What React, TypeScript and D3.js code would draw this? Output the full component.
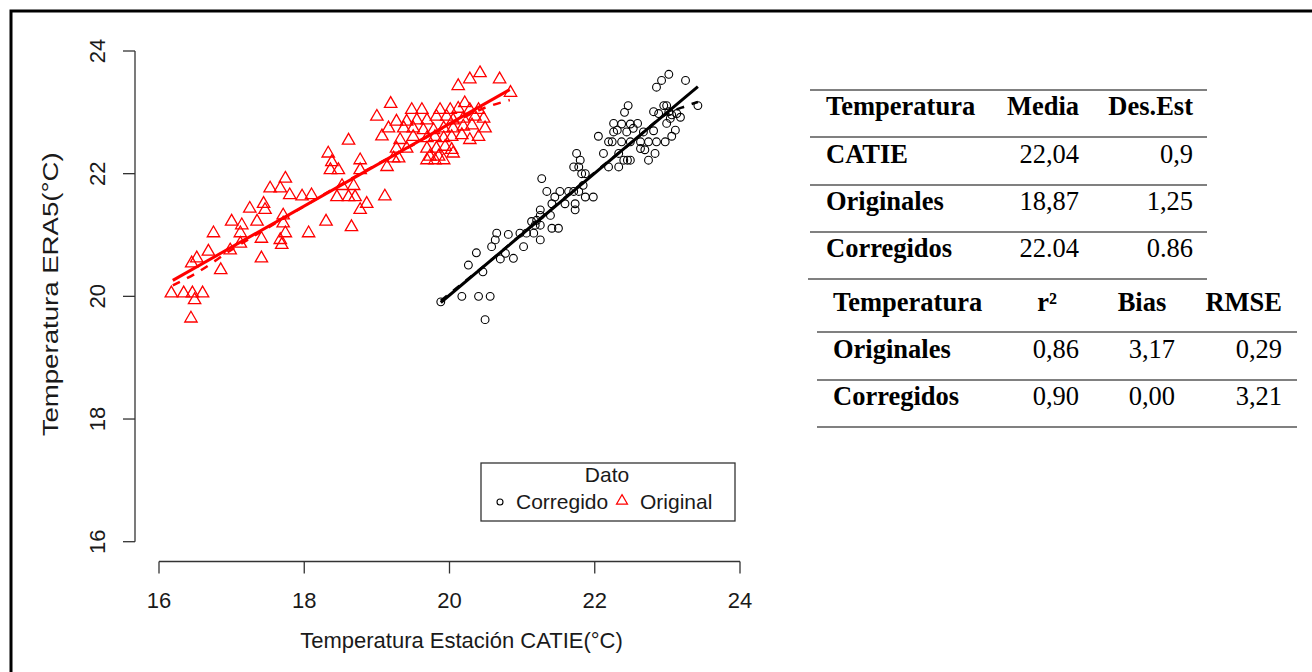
import React from "react";
import * as d3 from "d3";

// ---------- data ----------
const xTicks = [16, 18, 20, 22, 24];
const yTicks = [16, 18, 20, 22, 24];

// Original (red triangles): [CATIE, ERA5]
const originalPoints: [number, number][] = [
  [20.42, 23.64], [20.28, 23.54], [20.12, 23.43], [20.69, 23.54], [20.84, 23.32], [19.19, 23.14], [19.0, 22.93], [18.61, 22.54],
  [19.48, 23.04], [19.62, 23.04], [19.87, 23.04], [20.01, 23.04], [20.12, 23.06], [20.21, 23.15], [20.28, 23.04], [20.4, 23.04],
  [19.27, 22.85], [19.41, 22.85], [19.55, 22.87], [19.69, 22.87], [19.82, 22.93], [19.96, 22.93], [20.05, 22.87], [20.19, 22.9], [20.35, 22.93], [20.47, 22.9],
  [19.16, 22.74], [19.37, 22.74], [19.5, 22.74], [19.64, 22.71], [19.78, 22.71], [19.92, 22.74], [20.05, 22.74], [20.19, 22.77], [20.31, 22.79], [20.49, 22.74],
  [19.07, 22.61], [19.32, 22.55], [19.5, 22.6], [19.69, 22.58], [19.8, 22.6], [19.92, 22.58], [20.03, 22.6], [20.17, 22.63], [20.28, 22.55], [20.4, 22.6],
  [19.27, 22.41], [19.41, 22.41], [19.69, 22.41], [19.82, 22.41], [19.94, 22.44], [20.03, 22.39],
  [19.23, 22.25], [19.3, 22.25], [19.73, 22.28], [19.85, 22.28], [19.92, 22.22], [20.05, 22.33],
  [19.14, 22.11], [19.69, 22.22], [19.8, 22.22],
  [18.33, 22.33], [18.38, 22.19], [18.36, 22.06], [18.47, 22.06], [18.77, 22.22],
  [17.74, 21.92], [17.53, 21.76], [17.67, 21.76], [18.52, 21.8], [18.68, 21.8], [18.77, 22.06],
  [18.45, 21.62], [18.61, 21.62], [18.7, 21.62], [17.8, 21.65], [17.97, 21.63], [18.1, 21.65], [19.11, 21.63],
  [17.25, 21.43], [17.44, 21.51], [17.46, 21.41], [18.77, 21.41], [18.86, 21.51],
  [17.0, 21.22], [17.14, 21.16], [17.35, 21.22], [17.71, 21.32], [17.71, 21.19], [18.3, 21.22], [18.65, 21.13],
  [16.75, 21.03], [17.12, 21.03], [17.41, 20.94], [17.67, 20.92], [17.74, 21.03], [18.06, 21.03],
  [16.68, 20.73], [16.52, 20.62], [17.12, 20.86], [16.98, 20.75], [17.69, 20.84], [16.45, 20.54], [17.41, 20.62], [16.85, 20.43],
  [16.17, 20.05], [16.34, 20.05], [16.46, 20.05], [16.6, 20.05], [16.49, 19.94], [16.44, 19.64],
];

// Corregido (black circles)
const corregidoPoints: [number, number][] = [
  [23.02, 23.62], [22.92, 23.52], [22.85, 23.41], [23.25, 23.52], [23.42, 23.11],
  [22.46, 23.11], [22.41, 23.0], [22.95, 23.11], [22.99, 23.11], [22.81, 23.01], [22.88, 22.98], [23.02, 23.01], [23.06, 22.96], [23.13, 22.98], [23.18, 22.92], [23.04, 22.9],
  [22.26, 22.82], [22.37, 22.81], [22.49, 22.81], [22.59, 22.82], [22.53, 22.74], [22.31, 22.71], [22.26, 22.68], [22.44, 22.68], [22.67, 22.68], [22.81, 22.7], [22.99, 22.82], [23.11, 22.71],
  [22.05, 22.61], [22.19, 22.52], [22.24, 22.52], [22.37, 22.52], [22.49, 22.52], [22.63, 22.52], [22.74, 22.52], [22.85, 22.52], [22.97, 22.52], [23.06, 22.61], [22.63, 22.41], [22.69, 22.39], [22.83, 22.33], [22.74, 22.22],
  [22.12, 22.33], [22.33, 22.33], [22.4, 22.22], [22.49, 22.22], [22.19, 22.11], [22.33, 22.11], [22.45, 22.22],
  [21.75, 22.33], [21.8, 22.22], [21.71, 22.11], [21.78, 22.11], [21.82, 22.0], [21.87, 22.0],
  [21.27, 21.92], [21.34, 21.71], [21.45, 21.62], [21.52, 21.71], [21.64, 21.71], [21.71, 21.71], [21.78, 21.71], [21.87, 21.62], [21.98, 21.62], [21.84, 21.81],
  [21.41, 21.51], [21.59, 21.51], [21.73, 21.41], [21.73, 21.51],
  [21.25, 21.41], [21.25, 21.32], [21.39, 21.32], [21.2, 21.24], [21.13, 21.22], [21.18, 21.16], [21.25, 21.16], [21.41, 21.11], [21.5, 21.11],
  [20.65, 21.03], [20.81, 21.01], [20.97, 21.03], [21.06, 21.03], [21.16, 21.03], [21.25, 20.92], [20.63, 20.92], [20.58, 20.81], [21.02, 20.81],
  [20.37, 20.71], [20.26, 20.51], [20.7, 20.61], [20.77, 20.7], [20.88, 20.62], [20.46, 20.4],
  [19.88, 19.91], [20.17, 20.0], [20.4, 20.0], [20.56, 20.0], [20.49, 19.62],
];

const originalFit: [number, number][] = [[16.19, 20.26], [20.83, 23.37]];
const corregidoFit: [number, number][] = [[19.88, 19.9], [23.42, 23.42]];
const originalSmooth: [number, number][] = [
  [16.19, 20.18], [16.5, 20.37], [17.0, 20.76], [17.5, 21.12], [18.0, 21.47], [18.5, 21.82],
  [19.0, 22.15], [19.5, 22.47], [20.0, 22.8], [20.5, 23.08], [20.83, 23.2],
];
const corregidoSmooth: [number, number][] = [
  [19.88, 19.93], [20.5, 20.52], [21.0, 21.02], [21.5, 21.52], [22.0, 22.02], [22.5, 22.5],
  [23.0, 22.98], [23.25, 23.1], [23.42, 23.17],
];

const table1Header = ["Temperatura", "Media", "Des.Est"];
const table1Rows = [
  ["CATIE", "22,04", "0,9"],
  ["Originales", "18,87", "1,25"],
  ["Corregidos", "22.04", "0.86"],
];
const table2Header = ["Temperatura", "r²", "Bias", "RMSE"];
const table2Rows = [
  ["Originales", "0,86", "3,17", "0,29"],
  ["Corregidos", "0,90", "0,00", "3,21"],
];

// ---------- layout ----------
const W = 1312, H = 672;
const x = d3.scaleLinear().domain([16, 24]).range([159, 740]);
const y = d3.scaleLinear().domain([16, 24]).range([541.7, 51]);
const sans = "'Liberation Sans', Arial, sans-serif";
const serif = "'Liberation Serif', 'Times New Roman', serif";
const axisColor = "#333";

const lineGen = d3.line<[number, number]>().x((d) => x(d[0])).y((d) => y(d[1]));
const smoothGen = d3.line<[number, number]>().x((d) => x(d[0])).y((d) => y(d[1])).curve(d3.curveMonotoneX);

function triPath(cx: number, cy: number, R: number) {
  const a = 1.5551 * R, b = 1.3468 * R, c = 0.7776 * R;
  return `M${cx},${cy - a}L${cx + b},${cy + c}L${cx - b},${cy + c}Z`;
}

export default function App() {
  const t1Lines = [90, 137, 185, 232];
  const t1Base = [115, 163, 209.5, 257];
  const t2Lines = [332, 380, 427];
  const t2Base = [311, 358, 405];
  return (
    <svg width={W} height={H} style={{ position: "fixed", left: 0, top: 0, background: "#fff" }}>
      <rect x={0} y={0} width={W} height={H} fill="#fff" />
      <rect x={11} y={11} width={1400} height={800} fill="none" stroke="#000" strokeWidth={3} />

      {/* axes */}
      <g stroke={axisColor} strokeWidth={1.3} fill="none">
        <line x1={135} x2={135} y1={y(16)} y2={y(24)} />
        {yTicks.map((t) => (
          <line key={"yt" + t} x1={123} x2={135} y1={y(t)} y2={y(t)} />
        ))}
        <line x1={x(16)} x2={x(24)} y1={561.5} y2={561.5} />
        {xTicks.map((t) => (
          <line key={"xt" + t} x1={x(t)} x2={x(t)} y1={561.5} y2={573.5} />
        ))}
      </g>
      <g fontFamily={sans} fontSize={22} fill="#1a1a1a">
        {yTicks.map((t) => (
          <text key={"yl" + t} transform={`translate(105,${y(t)}) rotate(-90)`} textAnchor="middle">
            {t}
          </text>
        ))}
        {xTicks.map((t) => (
          <text key={"xl" + t} x={x(t)} y={608} textAnchor="middle">
            {t}
          </text>
        ))}
        <text x={461.5} y={648} textAnchor="middle">Temperatura Estación CATIE(°C)</text>
        <text
          transform={`translate(58,${(y(16) + y(24)) / 2 - 2}) rotate(-90)`}
          textAnchor="middle"
          textLength={284}
          lengthAdjust="spacingAndGlyphs"
        >
          Temperatura ERA5(°C)
        </text>
      </g>

      {/* points */}
      <g fill="none" stroke="#ff0000" strokeWidth={1.3}>
        {originalPoints.map((d, i) => (
          <path key={"o" + i} d={triPath(x(d[0]), y(d[1]), 4.6)} />
        ))}
      </g>
      <g fill="none" stroke="#000" strokeWidth={1.1}>
        {corregidoPoints.map((d, i) => (
          <circle key={"c" + i} cx={x(d[0])} cy={y(d[1])} r={3.9} />
        ))}
      </g>

      {/* fits */}
      <path d={lineGen(originalFit) || ""} stroke="#ff0000" strokeWidth={3} fill="none" />
      <path d={smoothGen(originalSmooth) || ""} stroke="#ff0000" strokeWidth={2.5} strokeDasharray="8,8" fill="none" />
      <path d={lineGen(corregidoFit) || ""} stroke="#000" strokeWidth={3} fill="none" />
      <path d={smoothGen(corregidoSmooth) || ""} stroke="#000" strokeWidth={2.5} strokeDasharray="8,8" fill="none" />

      {/* legend */}
      <rect x={481} y={463} width={254} height={58} fill="#fff" stroke={axisColor} strokeWidth={1.3} />
      <g fontFamily={sans} fontSize={21} fill="#1a1a1a">
        <text x={607} y={482} textAnchor="middle">Dato</text>
        <circle cx={500} cy={502} r={3} fill="none" stroke="#000" strokeWidth={1.1} />
        <text x={516} y={509}>Corregido</text>
        <path d={triPath(622, 501, 4.1)} fill="none" stroke="#ff0000" strokeWidth={1.2} />
        <text x={640} y={509}>Original</text>
      </g>

      {/* tables */}
      <g stroke="#808080" strokeWidth={2}>
        {t1Lines.map((ly, i) => (
          <line key={"t1l" + i} x1={810} x2={1207} y1={ly} y2={ly} />
        ))}
        <line x1={808} x2={1207} y1={279} y2={279} />
        {t2Lines.map((ly, i) => (
          <line key={"t2l" + i} x1={817} x2={1297} y1={ly} y2={ly} />
        ))}
      </g>
      <g fontFamily={serif} fontSize={26.5} fill="#000">
        <g fontWeight="bold">
          <text x={826} y={t1Base[0]}>{table1Header[0]}</text>
          <text x={1079} y={t1Base[0]} textAnchor="end">{table1Header[1]}</text>
          <text x={1193} y={t1Base[0]} textAnchor="end">{table1Header[2]}</text>
        </g>
        {table1Rows.map((r, i) => (
          <g key={"t1r" + i}>
            <text x={826} y={t1Base[i + 1]} fontWeight="bold">{r[0]}</text>
            <text x={1079} y={t1Base[i + 1]} textAnchor="end">{r[1]}</text>
            <text x={1193} y={t1Base[i + 1]} textAnchor="end">{r[2]}</text>
          </g>
        ))}
        <g fontWeight="bold">
          <text x={833} y={t2Base[0]}>{table2Header[0]}</text>
          <text x={1047} y={t2Base[0]} textAnchor="middle">{table2Header[1]}</text>
          <text x={1142} y={t2Base[0]} textAnchor="middle">{table2Header[2]}</text>
          <text x={1282} y={t2Base[0]} textAnchor="end">{table2Header[3]}</text>
        </g>
        {table2Rows.map((r, i) => (
          <g key={"t2r" + i}>
            <text x={833} y={t2Base[i + 1]} fontWeight="bold">{r[0]}</text>
            <text x={1079} y={t2Base[i + 1]} textAnchor="end">{r[1]}</text>
            <text x={1175} y={t2Base[i + 1]} textAnchor="end">{r[2]}</text>
            <text x={1282} y={t2Base[i + 1]} textAnchor="end">{r[3]}</text>
          </g>
        ))}
      </g>
    </svg>
  );
}
